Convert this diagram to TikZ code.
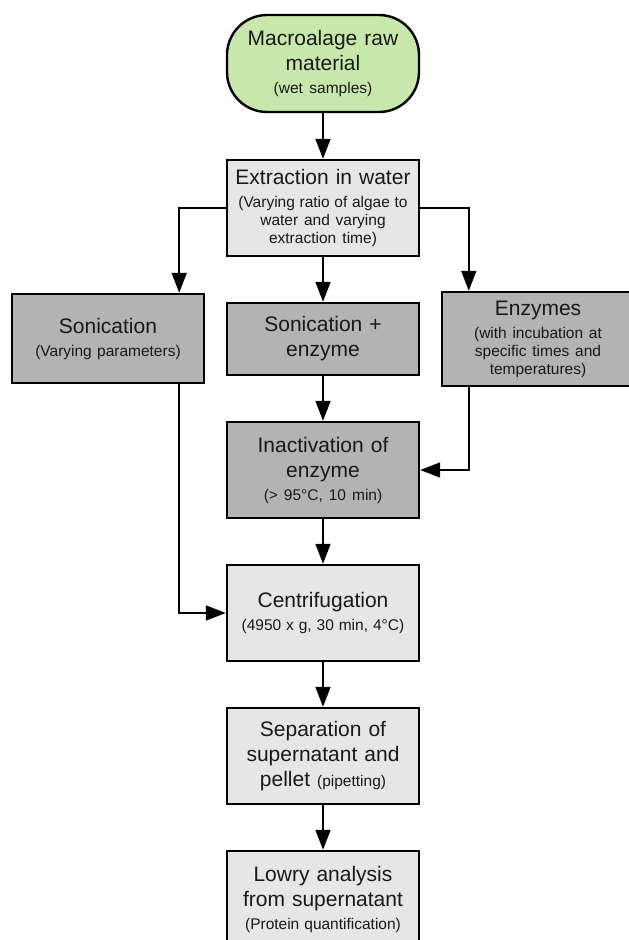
\documentclass[tikz,border=0pt]{standalone}
\usepackage{fontspec}
\setmainfont{Liberation Sans}
\usepackage{tikz}
\usetikzlibrary{arrows.meta}

\definecolor{rawgreen}{HTML}{C7E8AA}
\definecolor{lightbox}{HTML}{E6E6E6}
\definecolor{darkbox}{HTML}{B3B3B3}
\newcommand{\subtxt}[1]{{\fontsize{15.5}{18}\selectfont\spaceskip=0pt #1}}
\newcommand{\subline}[1]{\par\vspace{5pt}{\fontsize{15.5}{18}\selectfont\spaceskip=0pt #1\par}}

\begin{document}
\begin{tikzpicture}[x=1pt, y=-1pt,
    box/.style={draw, line width=2.4pt, text width=184pt, align=center,
      minimum width=192pt, inner sep=4pt, text=black!90,
      font=\fontsize{21}{25}\selectfont},
    flow/.style={-{Triangle[length=20pt,width=15pt]}, line width=1.7pt}]
    \useasboundingbox (0,0) rectangle (629,940);
    \clip (0,0) rectangle (629,940);

    \node[box, fill=rawgreen, rounded corners=40pt, minimum height=97pt] (raw) at (323,63.5)
      {Macroalage raw\\ material\subline{(wet samples)}};
    \node[box, fill=lightbox, minimum height=96pt] (extr) at (323,208)
      {Extraction in water\subline{(Varying ratio of algae to\\ water and varying\\ extraction time)}};

    % three treatment routes
    \node[box, fill=darkbox, minimum height=89pt] (son) at (108,338.5)
      {Sonication\subline{(Varying parameters)}};
    \node[box, fill=darkbox, minimum height=72pt] (sonenz) at (323,339)
      {Sonication +\\ enzyme};
    \node[box, fill=darkbox, minimum height=94pt] (enz) at (538,339)
      {Enzymes\subline{(with incubation at\\ specific times and\\ temperatures)}};

    \node[box, fill=darkbox, minimum height=96pt] (inact) at (323,470)
      {Inactivation of\\ enzyme\subline{(> 95°C, 10 min)}};
    \node[box, fill=lightbox, minimum height=96pt] (centr) at (323,613)
      {Centrifugation\subline{(4950 x g, 30 min, 4°C)}};
    \node[box, fill=lightbox, minimum height=96pt] (sep) at (323,756)
      {Separation of\\ supernatant and\\ pellet \subtxt{(pipetting)}};
    \node[box, fill=lightbox, minimum height=96pt] (lowry) at (323,899)
      {Lowry analysis\\ from supernatant\subline{(Protein quantification)}};

    \draw[flow] (raw) -- (extr);
    \draw[flow] (extr) -- (sonenz);
    \draw[flow] (extr.west) -| ([xshift=-26pt]son.north east);
    \draw[flow] (extr.east) -| ([xshift=28pt]enz.north west);
    \draw[flow] (sonenz) -- (inact);
    \draw[flow] ([xshift=28pt]enz.south west) |- (inact.east);
    \draw[flow] ([xshift=-26pt]son.south east) |- (centr.west);
    \draw[flow] (inact) -- (centr);
    \draw[flow] (centr) -- (sep);
    \draw[flow] (sep) -- (lowry);
\end{tikzpicture}
\end{document}
